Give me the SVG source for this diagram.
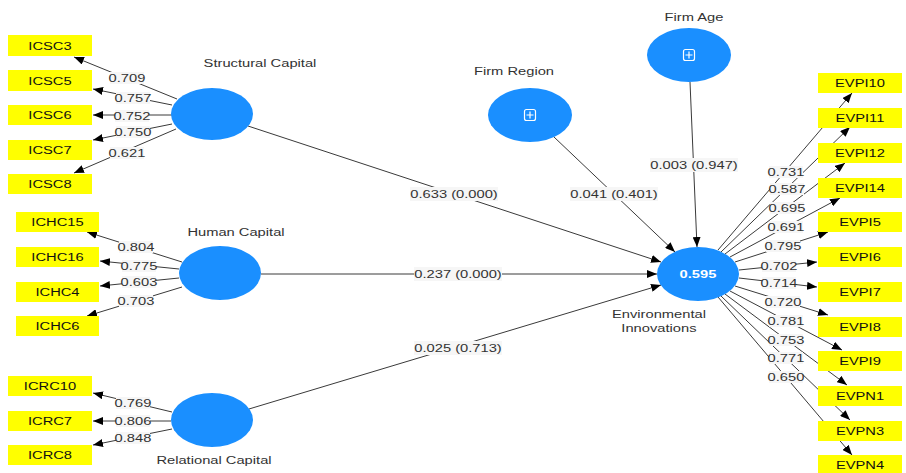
<svg xmlns="http://www.w3.org/2000/svg" width="906" height="473" viewBox="0 0 906 473">
<style>
.t{font-family:"Liberation Sans",Arial,sans-serif;font-size:11.5px;text-anchor:middle;transform-box:fill-box;transform-origin:center;transform:scaleX(1.28)}
.lab{fill:#333}
.num{fill:#333}
.ind{fill:#111}
.box{fill:#ffff00}
.node{fill:#1a8fff}
.bg{fill:#f6f6f6}
.edge{stroke:#3a3a3a;stroke-width:1;fill:none;marker-end:url(#ah)}
.icon{fill:none;stroke:#fff;stroke-width:1.2}
</style>
<defs>
<marker id="ah" viewBox="0 0 10 8" refX="10" refY="4" markerWidth="10" markerHeight="8" markerUnits="userSpaceOnUse" orient="auto"><path d="M0,0 L10,4 L0,8 z" fill="#000"/></marker>
</defs>
<rect width="906" height="473" fill="#fff"/>
<g id="connectors">
<line class="edge" x1="177" y1="99" x2="74" y2="57"/>
<line class="edge" x1="172" y1="105" x2="93" y2="89"/>
<line class="edge" x1="172" y1="115" x2="93" y2="115"/>
<line class="edge" x1="172" y1="124" x2="93" y2="140"/>
<line class="edge" x1="176" y1="129" x2="74" y2="173"/>
<line class="edge" x1="182" y1="262" x2="87" y2="232"/>
<line class="edge" x1="179" y1="269" x2="100" y2="261"/>
<line class="edge" x1="179" y1="278" x2="100" y2="286"/>
<line class="edge" x1="182" y1="287" x2="87" y2="316"/>
<line class="edge" x1="172" y1="412" x2="93" y2="393"/>
<line class="edge" x1="171" y1="421" x2="93" y2="421"/>
<line class="edge" x1="172" y1="429" x2="93" y2="445"/>
<line class="edge" x1="248" y1="126" x2="661" y2="262"/>
<line class="edge" x1="261" y1="274" x2="657" y2="274"/>
<line class="edge" x1="249" y1="409" x2="661" y2="285"/>
<line class="edge" x1="554" y1="137" x2="675" y2="252"/>
<line class="edge" x1="690" y1="82" x2="697" y2="247"/>
<line class="edge" x1="718" y1="250" x2="852" y2="93"/>
<line class="edge" x1="721" y1="252" x2="850" y2="127"/>
<line class="edge" x1="725" y1="254" x2="845" y2="163"/>
<line class="edge" x1="730" y1="257" x2="840" y2="198"/>
<line class="edge" x1="735" y1="262" x2="828" y2="232"/>
<line class="edge" x1="739" y1="270" x2="817" y2="262"/>
<line class="edge" x1="739" y1="278" x2="817" y2="287"/>
<line class="edge" x1="735" y1="286" x2="828" y2="315"/>
<line class="edge" x1="730" y1="291" x2="842" y2="350"/>
<line class="edge" x1="725" y1="294" x2="847" y2="385"/>
<line class="edge" x1="721" y1="296" x2="850" y2="420"/>
<line class="edge" x1="718" y1="297" x2="852" y2="455"/>
<g id="edge-labels">
<rect class="bg" x="110" y="72" width="34" height="12"/><text class="t num" x="127" y="82">0.709</text>
<rect class="bg" x="116" y="92" width="34" height="12"/><text class="t num" x="133" y="102">0.757</text>
<rect class="bg" x="115" y="110" width="34" height="12"/><text class="t num" x="132" y="120">0.752</text>
<rect class="bg" x="116" y="126" width="34" height="12"/><text class="t num" x="133" y="136">0.750</text>
<rect class="bg" x="110" y="147" width="34" height="12"/><text class="t num" x="127" y="157">0.621</text>
<rect class="bg" x="119" y="241" width="34" height="12"/><text class="t num" x="136" y="251">0.804</text>
<rect class="bg" x="122" y="260" width="34" height="12"/><text class="t num" x="139" y="270">0.775</text>
<rect class="bg" x="122" y="276" width="34" height="12"/><text class="t num" x="139" y="286">0.603</text>
<rect class="bg" x="119" y="295" width="34" height="12"/><text class="t num" x="136" y="305">0.703</text>
<rect class="bg" x="116" y="397" width="34" height="12"/><text class="t num" x="133" y="407">0.769</text>
<rect class="bg" x="116" y="415" width="34" height="12"/><text class="t num" x="133" y="425">0.806</text>
<rect class="bg" x="116" y="432" width="34" height="12"/><text class="t num" x="133" y="442">0.848</text>
<rect class="bg" x="410" y="187" width="88" height="14"/><text class="t num" x="454" y="198">0.633 (0.000)</text>
<rect class="bg" x="414" y="267" width="88" height="14"/><text class="t num" x="458" y="278">0.237 (0.000)</text>
<rect class="bg" x="414" y="341" width="88" height="14"/><text class="t num" x="458" y="352">0.025 (0.713)</text>
<rect class="bg" x="570" y="187" width="88" height="14"/><text class="t num" x="614" y="198">0.041 (0.401)</text>
<rect class="bg" x="650" y="158" width="88" height="14"/><text class="t num" x="694" y="169">0.003 (0.947)</text>
<rect class="bg" x="769" y="166" width="34" height="12"/><text class="t num" x="786" y="176">0.731</text>
<rect class="bg" x="770" y="183" width="34" height="12"/><text class="t num" x="787" y="193">0.587</text>
<rect class="bg" x="770" y="202" width="34" height="12"/><text class="t num" x="787" y="212">0.695</text>
<rect class="bg" x="769" y="221" width="34" height="12"/><text class="t num" x="786" y="231">0.691</text>
<rect class="bg" x="766" y="240" width="34" height="12"/><text class="t num" x="783" y="250">0.795</text>
<rect class="bg" x="762" y="260" width="34" height="12"/><text class="t num" x="779" y="270">0.702</text>
<rect class="bg" x="762" y="277" width="34" height="12"/><text class="t num" x="779" y="287">0.714</text>
<rect class="bg" x="766" y="296" width="34" height="12"/><text class="t num" x="783" y="306">0.720</text>
<rect class="bg" x="769" y="315" width="34" height="12"/><text class="t num" x="786" y="325">0.781</text>
<rect class="bg" x="769" y="334" width="34" height="12"/><text class="t num" x="786" y="344">0.753</text>
<rect class="bg" x="769" y="352" width="34" height="12"/><text class="t num" x="786" y="362">0.771</text>
<rect class="bg" x="769" y="371" width="34" height="12"/><text class="t num" x="786" y="381">0.650</text>
</g>
</g>
<g id="structural-capital"><ellipse class="node" cx="212" cy="114" rx="41" ry="26"/><text class="t lab" x="260" y="67">Structural Capital</text></g>
<g id="human-capital"><ellipse class="node" cx="220" cy="273" rx="41" ry="27"/><text class="t lab" x="236" y="236">Human Capital</text></g>
<g id="relational-capital"><ellipse class="node" cx="212" cy="420" rx="41" ry="27"/><text class="t lab" x="214" y="464">Relational Capital</text></g>
<g id="firm-region"><ellipse class="node" cx="530" cy="115" rx="42" ry="27"/><rect class="icon" x="524.5" y="109.5" width="11" height="11" rx="2"/><path class="icon" d="M530,111.5 V118.5 M526.5,115 H533.5"/><text class="t lab" x="514" y="75">Firm Region</text></g>
<g id="firm-age"><ellipse class="node" cx="689" cy="55" rx="42" ry="27"/><rect class="icon" x="683.5" y="49.5" width="11" height="11" rx="2"/><path class="icon" d="M689,51.5 V58.5 M685.5,55 H692.5"/><text class="t lab" x="694" y="21">Firm Age</text></g>
<g id="environmental-innovations"><ellipse class="node" cx="698" cy="274" rx="41" ry="27"/><text class="t" x="698" y="278" fill="#fff" font-weight="bold">0.595</text><text class="t lab" x="659" y="318">Environmental</text><text class="t lab" x="659" y="332">Innovations</text></g>
<g id="ICSC3"><rect class="box" x="8" y="35" width="84" height="21"/><text class="t ind" x="50" y="50">ICSC3</text></g>
<g id="ICSC5"><rect class="box" x="8" y="70" width="84" height="21"/><text class="t ind" x="50" y="85">ICSC5</text></g>
<g id="ICSC6"><rect class="box" x="8" y="105" width="84" height="20"/><text class="t ind" x="50" y="119">ICSC6</text></g>
<g id="ICSC7"><rect class="box" x="8" y="140" width="84" height="20"/><text class="t ind" x="50" y="154">ICSC7</text></g>
<g id="ICSC8"><rect class="box" x="8" y="174" width="84" height="20"/><text class="t ind" x="50" y="188">ICSC8</text></g>
<g id="ICHC15"><rect class="box" x="16" y="212" width="83" height="20"/><text class="t ind" x="57.5" y="226">ICHC15</text></g>
<g id="ICHC16"><rect class="box" x="16" y="247" width="83" height="20"/><text class="t ind" x="57.5" y="261">ICHC16</text></g>
<g id="ICHC4"><rect class="box" x="16" y="282" width="83" height="20"/><text class="t ind" x="57.5" y="296">ICHC4</text></g>
<g id="ICHC6"><rect class="box" x="16" y="316" width="83" height="20"/><text class="t ind" x="57.5" y="330">ICHC6</text></g>
<g id="ICRC10"><rect class="box" x="8" y="376" width="84" height="20"/><text class="t ind" x="50" y="390">ICRC10</text></g>
<g id="ICRC7"><rect class="box" x="8" y="411" width="84" height="20"/><text class="t ind" x="50" y="425">ICRC7</text></g>
<g id="ICRC8"><rect class="box" x="8" y="445" width="84" height="20"/><text class="t ind" x="50" y="459">ICRC8</text></g>
<g id="EVPI10"><rect class="box" x="818" y="73" width="84" height="20"/><text class="t ind" x="860" y="87">EVPI10</text></g>
<g id="EVPI11"><rect class="box" x="818" y="108" width="84" height="20"/><text class="t ind" x="860" y="122">EVPI11</text></g>
<g id="EVPI12"><rect class="box" x="818" y="143" width="84" height="20"/><text class="t ind" x="860" y="157">EVPI12</text></g>
<g id="EVPI14"><rect class="box" x="818" y="178" width="84" height="20"/><text class="t ind" x="860" y="192">EVPI14</text></g>
<g id="EVPI5"><rect class="box" x="818" y="212" width="84" height="20"/><text class="t ind" x="860" y="226">EVPI5</text></g>
<g id="EVPI6"><rect class="box" x="818" y="247" width="84" height="20"/><text class="t ind" x="860" y="261">EVPI6</text></g>
<g id="EVPI7"><rect class="box" x="818" y="282" width="84" height="20"/><text class="t ind" x="860" y="296">EVPI7</text></g>
<g id="EVPI8"><rect class="box" x="818" y="317" width="84" height="20"/><text class="t ind" x="860" y="331">EVPI8</text></g>
<g id="EVPI9"><rect class="box" x="818" y="351" width="84" height="20"/><text class="t ind" x="860" y="365">EVPI9</text></g>
<g id="EVPN1"><rect class="box" x="818" y="386" width="84" height="20"/><text class="t ind" x="860" y="400">EVPN1</text></g>
<g id="EVPN3"><rect class="box" x="818" y="421" width="84" height="20"/><text class="t ind" x="860" y="435">EVPN3</text></g>
<g id="EVPN4"><rect class="box" x="818" y="455" width="84" height="20"/><text class="t ind" x="860" y="469">EVPN4</text></g>
</svg>
